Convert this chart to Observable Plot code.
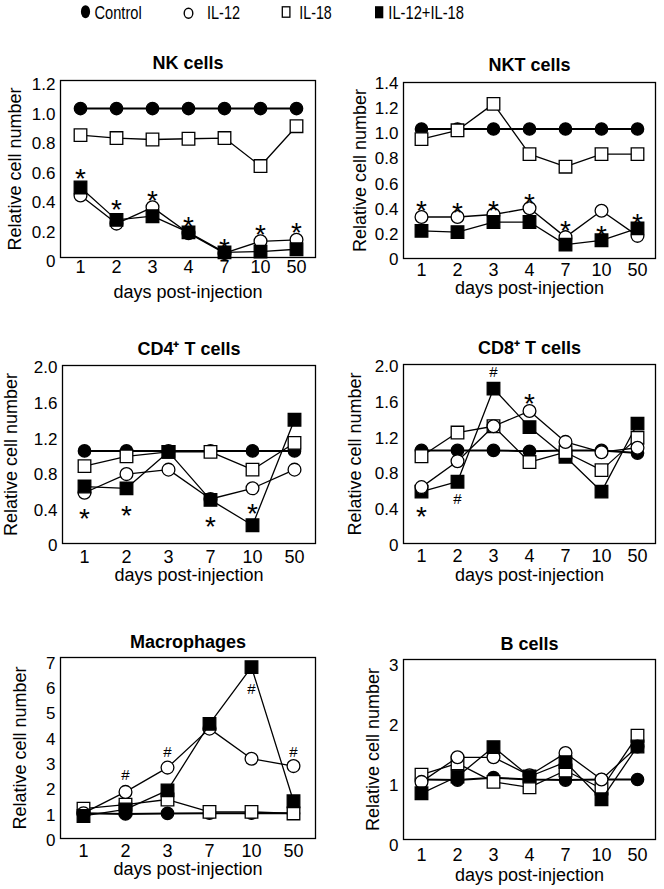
<!DOCTYPE html>
<html><head><meta charset="utf-8">
<script src="https://cdn.jsdelivr.net/npm/d3@7"></script>
<script src="https://cdn.jsdelivr.net/npm/@observablehq/plot@0.6"></script>
<style>
body{margin:0;background:#fff;}
#root{position:relative;width:664px;height:889px;overflow:hidden;background:#fff;font-family:"Liberation Sans",Arial,sans-serif;}
</style></head><body><div id="root"></div>
<script>
// ---------- data ----------
const daysA = ["1","2","3","4","7","10","50"];
const daysB = ["1","2","3","7","10","50"];
const seriesNames = ["Control","IL-12","IL-18","IL-12+IL-18"];

// NK cells
const nkControl = [1.01,1.01,1.01,1.01,1.01,1.01,1.01];
const nkIL12    = [0.42,0.23,0.34,0.165,0.03,0.11,0.12];
const nkIL18    = [0.83,0.81,0.80,0.805,0.81,0.62,0.89];
const nkCombo   = [0.475,0.255,0.28,0.17,0.035,0.04,0.056];
const nkSig     = ["*","*","*","*","*","*","*"];
const nkSigDays = ["1","2","3","4","7","10","50"];
const nkSigY    = [0.58,0.37,0.435,0.26,0.11,0.2,0.22];

// NKT cells
const nktControl = [1.03,1.03,1.03,1.03,1.03,1.03,1.03];
const nktIL12    = [0.33,0.33,0.35,0.40,0.17,0.38,0.18];
const nktIL18    = [0.95,1.02,1.23,0.83,0.73,0.83,0.83];
const nktCombo   = [0.22,0.21,0.29,0.29,0.11,0.145,0.24];
const nktSig     = ["*","*","*","*","*","*","*"];
const nktSigDays = ["1","2","3","4","7","10","50"];
const nktSigY    = [0.436,0.42,0.44,0.49,0.28,0.24,0.335];

// CD4+ T cells
const cd4Control = [1.04,1.04,1.04,1.04,1.04,1.04];
const cd4IL12    = [0.57,0.78,0.83,0.50,0.62,0.83];
const cd4IL18    = [0.87,0.98,1.03,1.03,0.83,1.13];
const cd4Combo   = [0.64,0.62,1.03,0.49,0.205,1.39];
const cd4Sig     = ["*","*","*","*"];
const cd4SigDays = ["1","2","7","10"];
const cd4SigY    = [0.355,0.39,0.27,0.41];

// CD8+ T cells
const cd8Control = [1.04,1.04,1.04,1.03,1.04,1.04,1.01];
const cd8IL12    = [0.63,0.92,1.31,1.48,1.135,1.02,1.07];
const cd8IL18    = [0.975,1.24,1.31,0.91,1.02,0.82,1.18];
const cd8Combo   = [0.58,0.69,1.73,1.30,0.97,0.58,1.34];
const cd8Sig     = ["*","#","#","*"];
const cd8SigDays = ["1","2","3","4"];
const cd8SigY    = [0.38,0.49,1.91,1.64];

// Macrophages
const macControl = [1.0,0.97,0.99,1.0,1.0,1.0];
const macIL12    = [1.0,1.84,2.8,4.34,3.15,2.86];
const macIL18    = [1.18,1.34,1.54,1.05,1.05,0.99];
const macCombo   = [0.89,1.15,1.9,4.53,6.77,1.47];
const macSig     = ["#","#","#","#"];
const macSigDays = ["2","3","10","50"];
const macSigY    = [2.52,3.41,5.91,3.41];

// B cells
const bControl = [1.0,0.99,1.03,1.0,0.99,1.0,1.0];
const bIL12    = [0.96,1.37,1.37,1.07,1.44,1.0,1.55];
const bIL18    = [1.08,1.27,0.96,0.87,1.15,0.85,1.73];
const bCombo   = [0.77,1.05,1.54,1.05,1.29,0.67,1.55];

// tick labels
const ticksNK  = [0,0.2,0.4,0.6,0.8,1.0,1.2];
const ticksNKT = [0,0.2,0.4,0.6,0.8,1.0,1.2,1.4];
const ticksT   = [0,0.4,0.8,1.2,1.6,2.0];
const ticksMac = [0,1,2,3,4,5,6,7];
const ticksB   = [0,1,2,3];

// ---------- styling ----------
const styles = {
  "Control":     {symbol:"circle", fill:"black", r:6.2, lw:2},
  "IL-12":       {symbol:"circle", fill:"white", r:6.4, lw:1.3},
  "IL-18":       {symbol:"square", fill:"white", r:7.1, lw:1.3},
  "IL-12+IL-18": {symbol:"square", fill:"black", r:7.1, lw:1.3}
};
const fmt1 = d => d === 0 ? "0" : d.toFixed(1);
const fmt0 = d => String(d);
const defOrder = ["Control","IL-18","IL-12","IL-12+IL-18"];

const panels = [
  {title:"NK cells", days:daysA, vals:[nkControl,nkIL12,nkIL18,nkCombo], sig:nkSig, sigDays:nkSigDays, sigY:nkSigY,
   yMax:1.2, ticks:ticksNK, fmt:fmt1, order:defOrder,
   col:0, fl:60, fr:315, ft:80, fb:257, xPad:3, xBase:40, yDy:4.5, yLabDx:-45.5, tDy:-17},
  {title:"NKT cells", days:daysA, vals:[nktControl,nktIL12,nktIL18,nktCombo], sig:nktSig, sigDays:nktSigDays, sigY:nktSigY,
   yMax:1.4, ticks:ticksNKT, fmt:fmt1, order:defOrder,
   col:1, fl:403, fr:655, ft:82, fb:258, xPad:5, xBase:35, yDy:1, yLabDx:-43.5, tDy:-17},
  {title:"CD4\u207A T cells", days:daysB, vals:[cd4Control,cd4IL12,cd4IL18,cd4Combo], sig:cd4Sig, sigDays:cd4SigDays, sigY:cd4SigY,
   yMax:2.0, ticks:ticksT, fmt:fmt1, order:defOrder,
   col:0, fl:62, fr:315, ft:365, fb:543, xPad:7, xBase:37, yDy:2.5, yLabDx:-51, tDy:-16},
  {title:"CD8\u207A T cells", days:daysA, vals:[cd8Control,cd8IL12,cd8IL18,cd8Combo], sig:cd8Sig, sigDays:cd8SigDays, sigY:cd8SigY,
   yMax:2.0, ticks:ticksT, fmt:fmt1, order:["Control","IL-12+IL-18","IL-18","IL-12"],
   col:1, fl:403, fr:655, ft:364, fb:543, xPad:6, xBase:37, yDy:2, yLabDx:-48.5, tDy:-16},
  {title:"Macrophages", days:daysB, vals:[macControl,macIL12,macIL18,macCombo], sig:macSig, sigDays:macSigDays, sigY:macSigY,
   yMax:7.15, ticks:ticksMac, fmt:fmt0, order:defOrder,
   col:0, fl:60, fr:315, ft:657, fb:838, xPad:6, xBase:36, yDy:2, yLabDx:-40.5, tDy:-15.5},
  {title:"B cells", days:daysA, vals:[bControl,bIL12,bIL18,bCombo], sig:[], sigDays:[], sigY:[],
   yMax:3, ticks:ticksB, fmt:fmt0, order:defOrder,
   col:1, fl:403, fr:655, ft:659, fb:839, xPad:9, xBase:41, yDy:6, yLabDx:-30.5, tDy:-15.5}
];

const root = document.getElementById("root");
const FONT = '"Liberation Sans", Arial, sans-serif';

function makePanel(p) {
  const W = 332, left = p.col * 332, mt = 50, mb = 50;
  const top = p.ft - mt;
  const height = mt + (p.fb - p.ft) + mb;
  const rows = [];
  seriesNames.forEach((name, k) => p.vals[k].forEach((v, i) => rows.push({series:name, day:p.days[i], v})));
  const marks = [Plot.frame({stroke:"black", strokeWidth:1.3})];
  for (const name of p.order) {
    const st = styles[name];
    const d = rows.filter(r => r.series === name);
    marks.push(Plot.line(d, {x:"day", y:"v", stroke:"black", strokeWidth:st.lw}));
    marks.push(Plot.dot(d, {x:"day", y:"v", symbol:st.symbol, r:st.r, fill:st.fill, stroke:"black", strokeWidth:1.3}));
  }
  const sig = p.sig.map((s, i) => ({s, day:p.sigDays[i], v:p.sigY[i]}));
  marks.push(Plot.text(sig.filter(d => d.s === "*"), {x:"day", y:"v", text:"s", fontSize:28, dy:7.5, lineAnchor:"middle", fill:"black"}));
  marks.push(Plot.text(sig.filter(d => d.s === "#"), {x:"day", y:"v", text:"s", fontSize:15, dy:0, lineAnchor:"middle", fill:"black"}));
  marks.push(Plot.axisY({ticks:p.ticks, tickFormat:p.fmt, tickSize:0, tickPadding:5, fontSize:17, dy:p.yDy, label:null}));
  marks.push(Plot.axisX({tickSize:0, tickPadding:p.xPad, fontSize:18, label:null}));
  marks.push(Plot.text([p.title], {frameAnchor:"top", text:d => d, dy:p.tDy, fontSize:18, fontWeight:"bold", lineAnchor:"middle", textAnchor:"middle"}));
  marks.push(Plot.text(["days post-injection"], {frameAnchor:"bottom", text:d => d, dy:p.xBase, fontSize:18, lineAnchor:"bottom", textAnchor:"middle"}));
  marks.push(Plot.text(["Relative cell number"], {frameAnchor:"left", text:d => d, dx:p.yLabDx, rotate:-90, fontSize:18, lineAnchor:"middle", textAnchor:"middle"}));
  const svg = Plot.plot({
    width:W, height, marginTop:mt, marginBottom:mb, marginLeft:p.fl - left, marginRight:left + W - p.fr,
    x:{type:"point", domain:p.days, padding:0.5},
    y:{domain:[0, p.yMax]},
    marks,
    style:{fontFamily:FONT, fontSize:"17px", color:"black", background:"transparent", overflow:"visible"}
  });
  svg.style.position = "absolute";
  svg.style.left = left + "px";
  svg.style.top = top + "px";
  root.appendChild(svg);
}
panels.forEach(makePanel);

// ---------- legend ----------
const lg = d3.create("svg").attr("width", 664).attr("height", 30)
  .style("position","absolute").style("left","0px").style("top","0px")
  .style("font-family", FONT);
lg.append("ellipse").attr("cx",85.5).attr("cy",11.7).attr("rx",4.6).attr("ry",6.5).attr("fill","black");
lg.append("ellipse").attr("cx",188.5).attr("cy",13.3).attr("rx",4.3).attr("ry",5).attr("fill","white").attr("stroke","black").attr("stroke-width",1.4);
lg.append("rect").attr("x",282.3).attr("y",6.8).attr("width",7.6).attr("height",10.4).attr("fill","white").attr("stroke","black").attr("stroke-width",1.3);
lg.append("rect").attr("x",375).attr("y",6.2).attr("width",8.3).attr("height",12.1).attr("fill","black");
const legTexts = [
  {t:seriesNames[0], x:94.5, w:47.2},
  {t:seriesNames[1], x:207, w:33},
  {t:seriesNames[2], x:299.3, w:32.4},
  {t:seriesNames[3], x:388.3, w:75.7}
];
legTexts.forEach(d => lg.append("text").attr("x", d.x).attr("y", 18.8).attr("font-size", 18.5)
  .attr("textLength", d.w).attr("lengthAdjust","spacingAndGlyphs").attr("fill","black").text(d.t));
root.appendChild(lg.node());
</script></body></html>
